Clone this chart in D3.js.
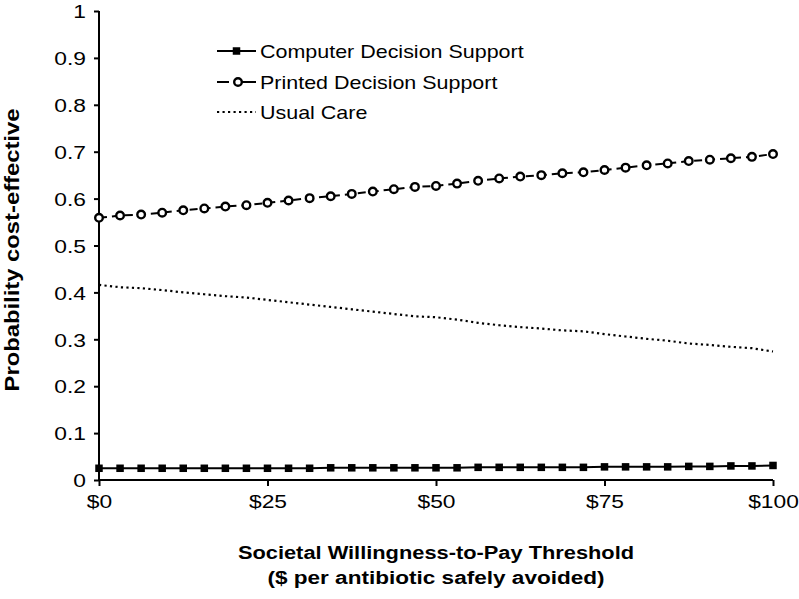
<!DOCTYPE html>
<html>
<head>
<meta charset="utf-8">
<script src="https://cdn.jsdelivr.net/npm/d3@7"></script>
<style>
  html, body { margin: 0; padding: 0; background: #fff; }
  text { font-family: "Liberation Sans", Arial, sans-serif; fill: #000; }
</style>
</head>
<body>
<svg id="chart" width="799" height="599"></svg>
<script>
// ---- data ----
const wtp = [0, 3.125, 6.25, 9.375, 12.5, 15.625, 18.75, 21.875, 25, 28.125, 31.25, 34.375, 37.5, 40.625, 43.75, 46.875, 50, 53.125, 56.25, 59.375, 62.5, 65.625, 68.75, 71.875, 75, 78.125, 81.25, 84.375, 87.5, 90.625, 93.75, 96.875, 100];
const computerSupport = [0.025, 0.025, 0.025, 0.025, 0.025, 0.025, 0.025, 0.025, 0.025, 0.025, 0.025, 0.026, 0.026, 0.026, 0.026, 0.026, 0.026, 0.026, 0.027, 0.027, 0.027, 0.027, 0.027, 0.027, 0.028, 0.028, 0.028, 0.028, 0.029, 0.029, 0.030, 0.030, 0.031];
const printedSupport = [0.559, 0.564, 0.566, 0.570, 0.575, 0.579, 0.583, 0.586, 0.591, 0.596, 0.601, 0.605, 0.610, 0.615, 0.620, 0.625, 0.627, 0.632, 0.638, 0.643, 0.647, 0.650, 0.654, 0.656, 0.661, 0.666, 0.671, 0.675, 0.680, 0.683, 0.686, 0.689, 0.695];
const usualCare = [0.416, 0.411, 0.409, 0.405, 0.400, 0.396, 0.392, 0.389, 0.384, 0.379, 0.374, 0.369, 0.364, 0.359, 0.354, 0.349, 0.347, 0.342, 0.335, 0.330, 0.326, 0.323, 0.319, 0.317, 0.311, 0.306, 0.301, 0.297, 0.291, 0.288, 0.284, 0.281, 0.274];
const seriesNames = ["Computer Decision Support", "Printed Decision Support", "Usual Care"];
const yTicks = [0, 0.1, 0.2, 0.3, 0.4, 0.5, 0.6, 0.7, 0.8, 0.9, 1];
const yTickLabels = ["0", "0.1", "0.2", "0.3", "0.4", "0.5", "0.6", "0.7", "0.8", "0.9", "1"];
const xTicks = [0, 25, 50, 75, 100];
const xTickLabels = ["$0", "$25", "$50", "$75", "$100"];
const xTitle = ["Societal Willingness-to-Pay Threshold", "($ per antibiotic safely avoided)"];
const yTitle = "Probability cost-effective";

// ---- drawing ----
const svg = d3.select("#chart");
const x = d3.scaleLinear().domain([0, 100]).range([99, 773]);
const y = d3.scaleLinear().domain([0, 1]).range([480, 11]);
const SX = 1.2; // horizontal glyph stretch of the original

// axes
const yAxis = d3.axisLeft(y).tickValues(yTicks).tickSize(5).tickPadding(0)
  .tickFormat((d, i) => yTickLabels[i]);
const gy = svg.append("g").attr("transform", "translate(99,0)").call(yAxis);
gy.select(".domain").attr("stroke", "#000").attr("stroke-width", 2).attr("d", `M0,${y(1)}V${y(0)}`);
gy.selectAll(".tick line").attr("stroke", "#000").attr("stroke-width", 2);
gy.selectAll(".tick text")
  .attr("x", null).attr("dy", null)
  .attr("font-size", 19).attr("text-anchor", "end").attr("dominant-baseline", "central")
  .attr("transform", `translate(-13,0) scale(${SX},1)`);

const xAxis = d3.axisBottom(x).tickValues(xTicks).tickSize(6).tickPadding(0)
  .tickFormat((d, i) => xTickLabels[i]);
const gx = svg.append("g").attr("transform", "translate(0,480)").call(xAxis);
gx.select(".domain").attr("stroke", "#000").attr("stroke-width", 2).attr("d", `M${x(0) - 1},0H${x(100)}`);
gx.selectAll(".tick line").attr("stroke", "#000").attr("stroke-width", 2);
gx.selectAll(".tick text")
  .attr("y", null).attr("dy", null)
  .attr("font-size", 19).attr("text-anchor", "middle")
  .attr("transform", `translate(0,28) scale(${SX},1)`);

// axis titles
xTitle.forEach((t, i) => {
  svg.append("text")
    .attr("transform", `translate(436,${559 + i * 25}) scale(${i === 0 ? 1.18 : 1.22},1)`)
    .attr("text-anchor", "middle").attr("font-weight", "bold").attr("font-size", 18.5)
    .text(t);
});
svg.append("text")
  .attr("transform", `translate(19,250) rotate(-90) scale(1.19,1)`)
  .attr("text-anchor", "middle").attr("font-weight", "bold").attr("font-size", 20)
  .text(yTitle);

// lines
const line = d3.line().x((d, i) => x(wtp[i])).y(d => y(d));

svg.append("path").datum(usualCare)
  .attr("d", line).attr("fill", "none").attr("stroke", "#000")
  .attr("stroke-width", 2.2).attr("stroke-dasharray", "2.2,3.3");

svg.append("path").datum(printedSupport)
  .attr("d", line).attr("fill", "none").attr("stroke", "#000")
  .attr("stroke-width", 2).attr("stroke-dasharray", "8,5");
svg.append("g").selectAll("circle").data(printedSupport).join("circle")
  .attr("cx", (d, i) => x(wtp[i])).attr("cy", d => y(d)).attr("r", 3.8)
  .attr("fill", "#fff").attr("stroke", "#000").attr("stroke-width", 2.4);

svg.append("path").datum(computerSupport)
  .attr("d", line).attr("fill", "none").attr("stroke", "#000").attr("stroke-width", 2);
svg.append("g").selectAll("rect").data(computerSupport).join("rect")
  .attr("x", (d, i) => x(wtp[i]) - 3.75).attr("y", d => y(d) - 3.75)
  .attr("width", 7.5).attr("height", 7.5).attr("fill", "#000");

// legend
const legY = [51, 82, 112];
const lg = svg.append("g");
// computer
lg.append("line").attr("x1", 217).attr("x2", 256).attr("y1", legY[0]).attr("y2", legY[0])
  .attr("stroke", "#000").attr("stroke-width", 2);
lg.append("rect").attr("x", 236.5 - 3.75).attr("y", legY[0] - 3.75).attr("width", 7.5).attr("height", 7.5).attr("fill", "#000");
// printed
lg.append("line").attr("x1", 217).attr("x2", 256).attr("y1", legY[1]).attr("y2", legY[1])
  .attr("stroke", "#000").attr("stroke-width", 2).attr("stroke-dasharray", "12,6,21");
lg.append("circle").attr("cx", 238).attr("cy", legY[1]).attr("r", 3.8)
  .attr("fill", "#fff").attr("stroke", "#000").attr("stroke-width", 2.4);
// usual
lg.append("line").attr("x1", 217).attr("x2", 256).attr("y1", legY[2]).attr("y2", legY[2])
  .attr("stroke", "#000").attr("stroke-width", 2.2).attr("stroke-dasharray", "2.2,3.3");
seriesNames.forEach((n, i) => {
  lg.append("text")
    .attr("transform", `translate(260,${legY[i]}) scale(1.13,1)`)
    .attr("dominant-baseline", "central").attr("font-size", 19)
    .text(n);
});
</script>
</body>
</html>
